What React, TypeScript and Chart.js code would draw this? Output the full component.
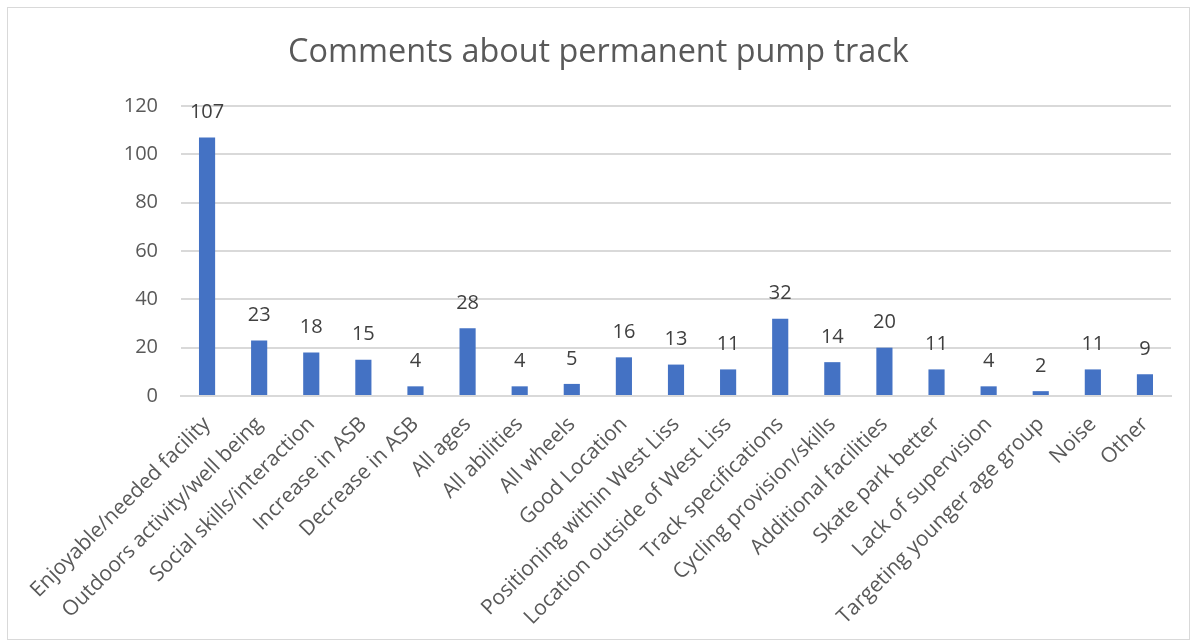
import React, { useEffect, useRef } from "react";
import { Chart, registerables } from "chart.js";

Chart.register(...registerables);

const categories: string[] = [
  "Enjoyable/needed facility",
  "Outdoors activity/well being",
  "Social skills/interaction",
  "Increase in ASB",
  "Decrease in ASB",
  "All ages",
  "All abilities",
  "All wheels",
  "Good Location",
  "Positioning within West Liss",
  "Location outside of West Liss",
  "Track specifications",
  "Cycling provision/skills",
  "Additional facilities",
  "Skate park better",
  "Lack of supervision",
  "Targeting younger age group",
  "Noise",
  "Other",
];

const counts: number[] = [107, 23, 18, 15, 4, 28, 4, 5, 16, 13, 11, 32, 14, 20, 11, 4, 2, 11, 9];

const yTicks: number[] = [0, 20, 40, 60, 80, 100, 120];

const FONT = "'Open Sans', sans-serif";

const dataLabelPlugin = {
  id: "dataLabels",
  afterDatasetsDraw(chart: any) {
    const ctx = chart.ctx;
    const meta = chart.getDatasetMeta(0);
    ctx.save();
    ctx.font = `20px ${FONT}`;
    ctx.fillStyle = "#404040";
    ctx.textAlign = "center";
    ctx.textBaseline = "middle";
    meta.data.forEach((bar: any, i: number) => {
      ctx.fillText(String(counts[i]), bar.x, bar.y - 25);
    });
    ctx.restore();
  },
};

export default function App() {
  const ref = useRef<HTMLCanvasElement | null>(null);
  useEffect(() => {
    if (!ref.current) return;
    const chart = new Chart(ref.current, {
      type: "bar",
      data: {
        labels: categories,
        datasets: [
          {
            data: counts,
            backgroundColor: "#4472C4",
            barPercentage: 0.31,
            categoryPercentage: 1,
          },
        ],
      },
      options: {
        animation: false,
        responsive: false,
        devicePixelRatio: 1,
        layout: { padding: { left: 0, right: 0, top: 0, bottom: 0 } },
        plugins: {
          legend: { display: false },
          tooltip: { enabled: false },
          title: {
            display: true,
            text: "Comments about permanent pump track",
            color: "#595959",
            font: { family: FONT, size: 32.4, weight: "normal" },
            padding: { top: 25, bottom: 34.1 },
          },
        },
        scales: {
          x: {
            grid: { display: false, drawTicks: false },
            border: { display: true, color: "#D9D9D9", width: 2 },
            ticks: {
              color: "#595959",
              font: { family: FONT, size: 21 },
              maxRotation: 45,
              minRotation: 45,
              autoSkip: false,
              padding: 16,
            },
            afterFit(scale: any) {
              scale.height = 243;
            },
          },
          y: {
            min: 0,
            max: 120,
            afterBuildTicks(scale: any) {
              scale.ticks = yTicks.map((v) => ({ value: v }));
            },
            grid: { color: "#D9D9D9", lineWidth: 2, drawTicks: false },
            border: { display: false },
            ticks: {
              color: "#595959",
              font: { family: FONT, size: 20 },
              padding: 23,
            },
            afterFit(scale: any) {
              scale.width = 173;
            },
          },
          spacer: {
            type: "linear",
            position: "right",
            display: true,
            grid: { display: false, drawTicks: false },
            border: { display: false },
            ticks: { display: false },
            afterFit(scale: any) {
              scale.width = 18;
            },
          },
        },
      },
      plugins: [dataLabelPlugin],
    });
    return () => chart.destroy();
  }, []);

  return (
    <div
      style={{
        position: "absolute",
        left: 7,
        top: 7,
        width: 1183,
        height: 633,
        border: "1px solid #D9D9D9",
        boxSizing: "border-box",
        background: "#fff",
      }}
    >
      <canvas ref={ref} width={1181} height={631} style={{ display: "block" }} />
    </div>
  );
}
